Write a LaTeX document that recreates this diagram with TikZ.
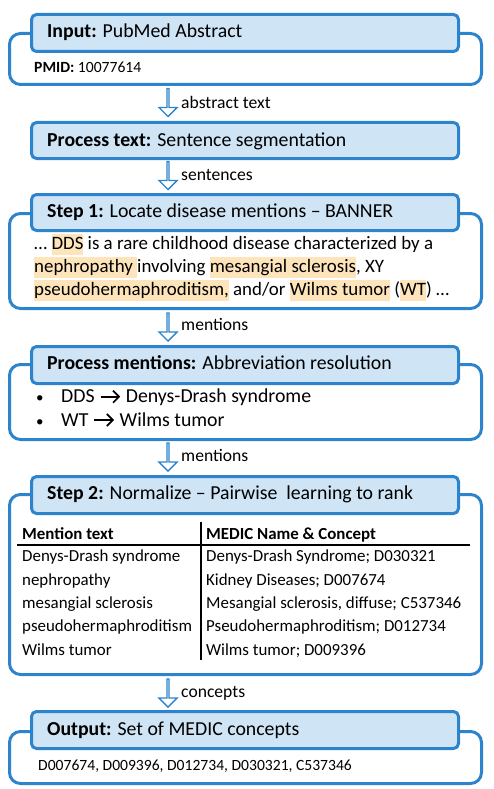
\documentclass[tikz,border=0pt]{standalone}
\usepackage{fontspec}
\setmainfont{Carlito}
\usetikzlibrary{shapes.arrows}
\definecolor{bblue}{RGB}{46,132,204}
\definecolor{hfill}{RGB}{207,228,245}
\definecolor{hlcol}{RGB}{253,228,186}
\newcommand{\hlw}[1]{{\setlength{\fboxsep}{0pt}\colorbox{hlcol}{\rule[-0.3em]{0pt}{1.12em}#1}}}
\newcommand{\rarr}{\hspace*{5pt}\tikz[baseline=0pt]{\draw[line width=1.7pt, line cap=butt] (0pt,6pt) -- (18.5pt,6pt);
  \draw[line width=1.7pt, line join=miter] (12.5pt,12pt) -- (18.5pt,6pt) -- (12.5pt,0pt);}\hspace*{6pt}}
\begin{document}
\begin{tikzpicture}[x=1pt,y=-1pt,
  outerbox/.style={draw=bblue, line width=3pt, rounded corners=11pt, fill=white, anchor=north west, inner sep=0pt},
  hdr/.style={draw=bblue, fill=hfill, line width=3pt, rounded corners=5pt, anchor=north west, inner sep=0pt},
  htxt/.style={anchor=base west, inner sep=0pt, font=\fontsize{19.8}{23}\selectfont},
  btxt/.style={anchor=base west, inner sep=0pt, font=\fontsize{18.9}{23}\selectfont},
  bltxt/.style={anchor=base west, inner sep=0pt, font=\fontsize{19.8}{23}\selectfont},
  small/.style={anchor=base west, inner sep=0pt, font=\fontsize{15.6}{18}\selectfont},
  lbl/.style={anchor=base west, inner sep=0pt, font=\fontsize{17.6}{20}\selectfont},
  ttxt/.style={anchor=base west, inner sep=0pt, font=\fontsize{16.9}{20}\selectfont},
  bdot/.style={anchor=base west, inner sep=0pt, font=\fontsize{15}{17}\selectfont},
  darrow/.style={single arrow, draw=bblue, fill=white, line width=1.4pt, shape border rotate=270,
     minimum width=18pt, single arrow head extend=5.5pt, single arrow head indent=0pt, inner sep=0pt, minimum height=28pt}
]
\useasboundingbox (0,0) rectangle (493,789);

% Input
\node[outerbox, minimum width=472, minimum height=51] (o1) at (8,32) {};
\node[hdr, minimum width=427, minimum height=37] (h1) at (30,13) {};
\node[htxt] (t1) at (47,37.5) {\textbf{Input:} PubMed Abstract};
\node[small] (p1) at (34,73) {\textbf{PMID:} 10077614};

\node[darrow] (a1) at (168,102) {};
\node[lbl] (l1) at (181,108.3) {abstract text};

% Process text
\node[hdr, minimum width=427, minimum height=36] (h2) at (30,121) {};
\node[htxt] (t2) at (47,146.5) {\textbf{Process text:} Sentence segmentation};

\node[darrow] (a2) at (168,175) {};
\node[lbl] (l2) at (181,180) {sentences};

% Step 1
\node[outerbox, minimum width=472, minimum height=95] (o3) at (8,212) {};
\node[hdr, minimum width=427, minimum height=36] (h3) at (30,193) {};
\node[htxt] (t3) at (47,217.7) {\textbf{Step 1:} Locate disease mentions – BANNER};
\node[btxt] (b31) at (34,249) {… \hlw{DDS} is a rare childhood disease characterized by a};
\node[btxt] (b32) at (34,272) {\hlw{nephropathy }involving \hlw{mesangial sclerosis}, XY};
\node[btxt] (b33) at (34,295) {\hlw{pseudohermaphroditism,} and/or \hlw{Wilms tumor} (\hlw{WT}) …};

\node[darrow] (a3) at (168,326.5) {};
\node[lbl] (l3) at (181,330.7) {mentions};

% Process mentions
\node[outerbox, minimum width=472, minimum height=75] (o4) at (8,363) {};
\node[hdr, minimum width=427, minimum height=37] (h4) at (30,345) {};
\node[htxt] (t4) at (47,369) {\textbf{Process mentions:} Abbreviation resolution};
\node[bdot] (d1) at (36,402.7) {•};
\node[bltxt] (b41) at (61,402.7) {DDS\rarr Denys-Drash syndrome};
\node[bdot] (d2) at (36,426) {•};
\node[bltxt] (b42) at (61,426) {WT\rarr Wilms tumor};

\node[darrow] (a4) at (168,456.5) {};
\node[lbl] (l4) at (181,461.7) {mentions};

% Step 2
\node[outerbox, minimum width=472, minimum height=180] (o5) at (8,493) {};
\node[hdr, minimum width=427, minimum height=37] (h5) at (30,475) {};
\node[htxt] (t5) at (47,499.5) {\textbf{Step 2:} Normalize – Pairwise\ \ learning to rank};
\coordinate (hl1) at (17,545);
\coordinate (hl2) at (470,545);
\coordinate (vl1) at (201,521.7);
\coordinate (vl2) at (201,660);
\draw[line width=1.5pt] (hl1) -- (hl2);
\draw[line width=1.5pt] (vl1) -- (vl2);
\node[ttxt] (c0a) at (22,539.3) {\textbf{Mention text}};
\node[ttxt] (c0b) at (206,539.3) {\textbf{MEDIC Name \& Concept}};
\node[ttxt] (c1a) at (22,561.7) {Denys-Drash syndrome};
\node[ttxt] (c1b) at (206,561.7) {Denys-Drash Syndrome; D030321};
\node[ttxt] (c2a) at (22,585) {nephropathy};
\node[ttxt] (c2b) at (206,585) {Kidney Diseases; D007674};
\node[ttxt] (c3a) at (22,608.3) {mesangial sclerosis};
\node[ttxt] (c3b) at (206,608.3) {Mesangial sclerosis, diffuse; C537346};
\node[ttxt] (c4a) at (22,631.7) {pseudohermaphroditism};
\node[ttxt] (c4b) at (206,631.7) {Pseudohermaphroditism; D012734};
\node[ttxt] (c5a) at (22,655) {Wilms tumor};
\node[ttxt] (c5b) at (206,655) {Wilms tumor; D009396};

\node[darrow] (a5) at (168,692.5) {};
\node[lbl] (l5) at (181,697) {concepts};

% Output
\node[outerbox, minimum width=472, minimum height=52] (o6) at (8,730) {};
\node[hdr, minimum width=427, minimum height=37] (h6) at (30,710) {};
\node[htxt] (t6) at (47,735) {\textbf{Output:} Set of MEDIC concepts};
\node[small] (p6) at (38,770) {D007674, D009396, D012734, D030321, C537346};
\end{tikzpicture}
\end{document}
